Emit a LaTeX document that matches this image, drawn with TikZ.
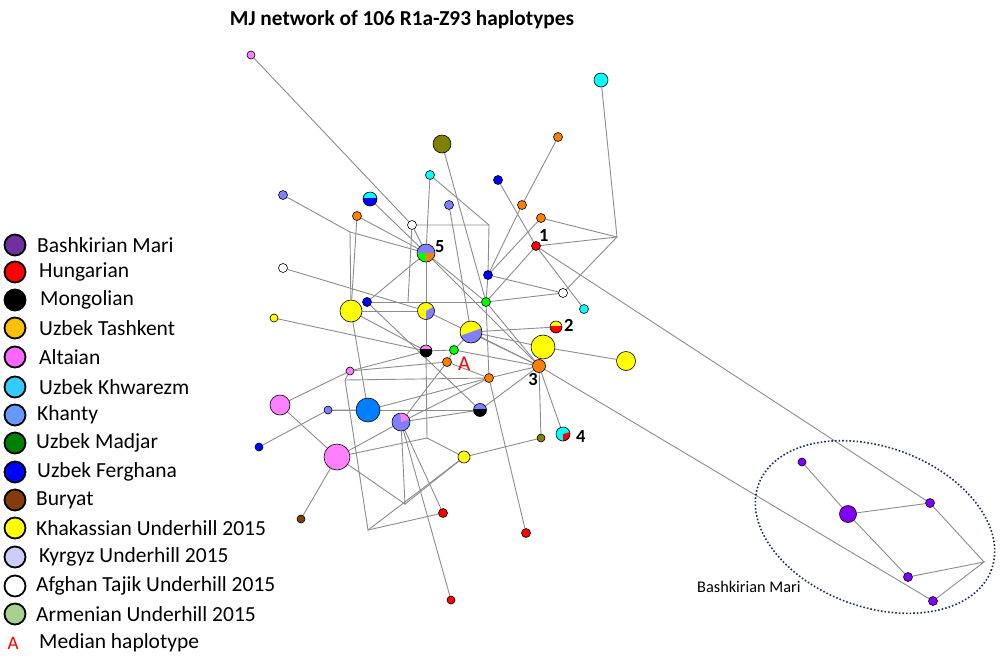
\documentclass[tikz,border=0pt]{standalone}
\usepackage{fontspec}
\setmainfont{Carlito}
\usetikzlibrary{backgrounds}
\definecolor{kh}{HTML}{8080FF}
\definecolor{cy}{HTML}{00FFFF}
\definecolor{bl}{HTML}{0000FF}
\definecolor{orn}{HTML}{FF8000}
\definecolor{ye}{HTML}{FFFF00}
\definecolor{al}{HTML}{FF80FF}
\definecolor{gr}{HTML}{00FF00}
\definecolor{ol}{HTML}{808000}
\definecolor{rd}{HTML}{FF0000}
\definecolor{pu}{HTML}{8000FF}
\definecolor{brn}{HTML}{804000}
\definecolor{db}{HTML}{0080FF}
\definecolor{edgecol}{HTML}{8C8C8C}
\definecolor{ellcol}{HTML}{1F2F5F}
% legend colours
\definecolor{LBash}{HTML}{7030A0}
\definecolor{LTash}{HTML}{FFC000}
\definecolor{LAlt}{HTML}{FF66FF}
\definecolor{LKhw}{HTML}{33CCFF}
\definecolor{LKha}{HTML}{6699FF}
\definecolor{LMad}{HTML}{008000}
\definecolor{LBur}{HTML}{843C0C}
\definecolor{LKyr}{HTML}{CCCCFF}
\definecolor{LArm}{HTML}{A9D18E}
\newcommand{\pwedge}[3]{\fill[#1] (path picture bounding box.center) -- ++(#2:30) arc[start angle=#2, end angle=#3, radius=30] -- cycle;}
\begin{document}
\begin{tikzpicture}[x=1pt,y=-1pt,
  nd/.style={circle, draw=black, line width=0.6pt, inner sep=0pt, minimum size=#1},
  nd/.default=9pt,
  halves/.style n args={3}{fill=#2, path picture={\fill[#1] (path picture bounding box.north west) rectangle ([yshift=#3]path picture bounding box.east);}},
  link/.style={draw=edgecol, line width=0.9pt},
  leg/.style={circle, draw=black, line width=1.8pt, inner sep=0pt, minimum size=21pt},
  legtxt/.style={anchor=west, font=\fontsize{21.5}{24}\selectfont, inner sep=0pt},
  num/.style={font=\bfseries\fontsize{18.5}{19}\selectfont, inner sep=0pt}
]
\useasboundingbox (0,0) rectangle (1000,657);

% title
\node[font=\bfseries\fontsize{21.3}{24}\selectfont] (title) at (402,20) {MJ network of 106 R1a-Z93 haplotypes};

% ---------- network nodes ----------
\node[nd=8pt, fill=al] (alt1) at (251,55) {};
\node[nd=14pt, fill=cy] (cyT) at (601,80) {};
\node[nd=18pt, fill=ol] (ol3) at (442,144) {};
\node[nd, fill=orn] (o4) at (558,137) {};
\node[nd, fill=cy] (cy5) at (430,175) {};
\node[nd, fill=bl] (b6) at (498,180) {};
\node[nd, fill=kh] (kh7) at (283,195) {};
\node[nd=14pt, halves={cy}{bl}{1pt}] (cb8) at (370,199) {};
\node[nd, fill=kh] (kh9) at (449,205) {};
\node[nd, fill=orn] (o10) at (522,205) {};
\node[nd, fill=orn] (o11) at (357,216) {};
\node[nd, fill=orn] (o12) at (541,218) {};
\node[nd, fill=white] (w13) at (412,225) {};
\node[nd=18pt, fill=kh, path picture={\pwedge{gr}{-180}{-270}\pwedge{orn}{-270}{-360}}] (n5) at (426,253) {};
\node[nd, fill=rd] (r1) at (536,246) {};
\node[nd, fill=white] (w16) at (283,268) {};
\node[nd, fill=bl] (b17) at (488,275) {};
\node[nd, fill=white] (w18) at (563,293) {};
\node[nd, fill=bl] (b19) at (367,302) {};
\node[nd, fill=gr] (g20) at (486,302) {};
\node[nd=22pt, fill=ye] (y21) at (351,311) {};
\node[nd=17pt, fill=ye, path picture={\pwedge{kh}{-270}{-390}}] (n22) at (426,311) {};
\node[nd, fill=cy] (cy23) at (584,309) {};
\node[nd=8pt, fill=ye] (y24) at (274,318) {};
\node[nd=22pt, fill=ye, path picture={\pwedge{kh}{-200}{-380}}] (n25) at (471,332) {};
\node[nd=12pt, halves={ye}{rd}{1pt}] (n2) at (556,327) {};
\node[nd=24pt, fill=ye] (y27) at (543,347) {};
\node[nd=12pt, halves={al}{black}{2pt}] (n28) at (426,351) {};
\node[nd, fill=gr] (A) at (454,350) {};
\node[nd, fill=orn] (o30) at (447,362) {};
\node[nd=19pt, fill=ye] (y31) at (626,361) {};
\node[nd=13pt, fill=orn] (n3) at (539,366) {};
\node[nd, fill=orn] (o33) at (489,378) {};
\node[nd=8pt, fill=al] (al34) at (350,371) {};
\node[nd=20pt, fill=al] (al35) at (280,405) {};
\node[nd=8pt, fill=kh] (kh36) at (328,410) {};
\node[nd=24pt, fill=db] (db37) at (368,410) {};
\node[nd=18pt, fill=kh, path picture={\pwedge{al}{-20}{-95}}] (n38) at (401,422) {};
\node[nd=13pt, halves={kh}{black}{1pt}] (n39) at (480,410) {};
\node[nd=8pt, fill=bl] (b40) at (259,447) {};
\node[nd=26pt, fill=al] (al41) at (337,457) {};
\node[nd=8pt, fill=ol] (ol42) at (541,438) {};
\node[nd=14pt, fill=cy, path picture={\pwedge{rd}{-270}{-375}}] (n43) at (563,434) {};
\node[nd=12pt, fill=ye] (y44) at (464,457) {};
\node[nd=8pt, fill=brn] (br45) at (301,519) {};
\node[nd, fill=rd] (r46) at (443,513) {};
\node[nd, fill=rd] (r47) at (526,533) {};
\node[nd=8pt, fill=rd] (r48) at (451,600) {};
\node[nd=8pt, fill=pu] (pu49) at (802,462) {};
\node[nd=17pt, fill=pu] (pu50) at (848,514) {};
\node[nd, fill=pu] (pu51) at (930,503) {};
\node[nd, fill=pu] (pu52) at (908,577) {};
\node[nd, fill=pu] (pu53) at (933,601) {};

% median vectors (bends)
\coordinate (J1) at (617,237);
\coordinate (J2) at (984,562);
\coordinate (J3) at (489,225);
\coordinate (J4) at (350,232);
\coordinate (J5) at (408,302);
\coordinate (J6) at (427,438);
\coordinate (J7) at (405,504);
\coordinate (J8) at (368,530);
\coordinate (J10) at (345,380);

% labels
\node[num, anchor=south west] (lab1) at (539,242) {1};
\node[num, anchor=west] (lab2) at (564,325) {2};
\node[num, anchor=north] (lab3) at (533,373) {3};
\node[num, anchor=west] (lab4) at (576,436) {4};
\node[num, anchor=south west] (lab5) at (435,253) {5};
\node[font=\fontsize{21}{22}\selectfont, text=rd, anchor=west, inner sep=0pt] (labA) at (458,364) {A};
\node[font=\fontsize{16.3}{17}\selectfont, anchor=west, inner sep=0pt] (labBM) at (697,587) {Bashkirian Mari};

% ellipse
\draw[ellcol, line width=1.6pt, dotted, rotate around={-20:(875,527)}] (875,527) ellipse[x radius=124, y radius=80];

% ---------- connectors ----------
\begin{pgfonlayer}{background}
\draw[link] (alt1) -- (w13);
\draw[link] (w13) -- (n5);
\draw[link] (cyT) -- (J1) -- (o12);
\draw[link] (J1) -- (r1);
\draw[link] (J1) -- (w18);
\draw[link] (ol3) -- (g20);
\draw[link] (o4) -- (o10) -- (b17);
\draw[link] (b6) -- (r1) -- (cy23);
\draw[link] (r1) -- (pu51);
\draw[link] (n3) -- (pu53);
\draw[link] (cy5) -- (n5);
\draw[link] (cy5) -- (J3);
\draw[link] (w13) -- (J3) -- (b17) -- (g20) -- (o33);
\draw[link] (kh9) -- (n25);
\draw[link] (kh7) -- (J4) -- (n5);
\draw[link] (J4) -- (y21);
\draw[link] (o11) -- (y21);
\draw[link] (o11) -- (n5);
\draw[link] (cb8) -- (n5);
\draw[link] (w13) -- (J5);
\draw[link] (b19) -- (J5) -- (g20);
\draw[link] (o12) -- (b17);
\draw[link] (r1) -- (g20);
\draw[link] (b17) -- (w18);
\draw[link] (g20) -- (w18);
\draw[link] (n5) -- (n3);
\draw[link] (n5) -- (g20);
\draw[link] (n5) -- (b19);
\draw[link] (n5) -- (n22);
\draw[link] (w16) -- (n22);
\draw[link] (y21) -- (n22);
\draw[link] (n22) -- (n28);
\draw[link] (y24) -- (n28);
\draw[link] (y21) -- (n28);
\draw[link] (y21) -- (db37);
\draw[link] (n28) -- (A);
\draw[link] (al34) -- (n28);
\draw[link] (n28) -- (J6);
\draw[link] (al41) -- (J6) -- (y44);
\draw[link] (pu49) -- (pu50) -- (pu51) -- (J2);
\draw[link] (pu50) -- (pu52) -- (J2) -- (pu53);
\draw[link] (al34) -- (al35) -- (al41) -- (br45);
\draw[link] (al34) -- (o30);
\draw[link] (al34) -- (J10) -- (J8) -- (r46);
\draw[link] (J10) -- (o33);
\draw[link] (b40) -- (kh36) -- (db37);
\draw[link] (al41) -- (n38);
\draw[link] (al41) -- (J7) -- (n38);
\draw[link] (J7) -- (y44);
\draw[link] (J8) -- (y44) -- (ol42) -- (n3);
\draw[link] (n38) -- (r46);
\draw[link] (n38) -- (r48);
\draw[link] (o33) -- (r47);
\draw[link] (n43) -- (n3);
\draw[link] (n3) -- (o33);
\draw[link] (n3) -- (n39);
\draw[link] (n3) -- (y27) -- (y31);
\draw[link] (n3) -- (n25);
\draw[link] (A) -- (n3);
\draw[link] (g20) -- (n3);
\draw[link] (n22) -- (n3);
\draw[link] (n25) -- (n2);
\draw[link] (n25) -- (y27);
\draw[link] (n25) -- (A) -- (o30) -- (n38);
\draw[link] (o30) -- (o33);
\draw[link] (n39) -- (n38);
\draw[link] (b19) -- (n39);
\draw[link] (kh36) -- (n39);
\draw[link] (db37) -- (o33);
\draw[link] (n38) -- (o33);
\end{pgfonlayer}

% ---------- legend ----------
\node[leg, fill=LBash] (L1) at (15,245) {};
\node[leg, fill=rd] (L2) at (15,272) {};
\node[leg, fill=black] (L3) at (15,300) {};
\node[leg, fill=LTash] (L4) at (15,328) {};
\node[leg, fill=LAlt] (L5) at (15,357) {};
\node[leg, fill=LKhw] (L6) at (15,387) {};
\node[leg, fill=LKha] (L7) at (15,415) {};
\node[leg, fill=LMad] (L8) at (15,443) {};
\node[leg, fill=bl] (L9) at (15,472) {};
\node[leg, fill=LBur] (L10) at (15,500) {};
\node[leg, fill=ye] (L11) at (15,528) {};
\node[leg, fill=LKyr] (L12) at (15,557) {};
\node[leg, fill=white] (L13) at (15,586) {};
\node[leg, fill=LArm] (L14) at (15,614) {};
\node[text=rd, font=\fontsize{19}{20}\selectfont, inner sep=0pt] (L15) at (13,643) {A};
\node[legtxt] (T1) at (37,245) {Bashkirian Mari};
\node[legtxt] (T2) at (39,272) {Hungarian};
\node[legtxt] (T3) at (40,300) {Mongolian};
\node[legtxt] (T4) at (39,328) {Uzbek Tashkent};
\node[legtxt] (T5) at (39,357) {Altaian};
\node[legtxt] (T6) at (39,387) {Uzbek Khwarezm};
\node[legtxt] (T7) at (37,415) {Khanty};
\node[legtxt] (T8) at (36,443) {Uzbek Madjar};
\node[legtxt] (T9) at (37,472) {Uzbek Ferghana};
\node[legtxt] (T10) at (36,500) {Buryat};
\node[legtxt] (T11) at (36,528) {Khakassian Underhill 2015};
\node[legtxt] (T12) at (39,557) {Kyrgyz Underhill 2015};
\node[legtxt] (T13) at (36,586) {Afghan Tajik Underhill 2015};
\node[legtxt] (T14) at (36,614) {Armenian Underhill 2015};
\node[legtxt] (T15) at (39,643) {Median haplotype};
\end{tikzpicture}
\end{document}
